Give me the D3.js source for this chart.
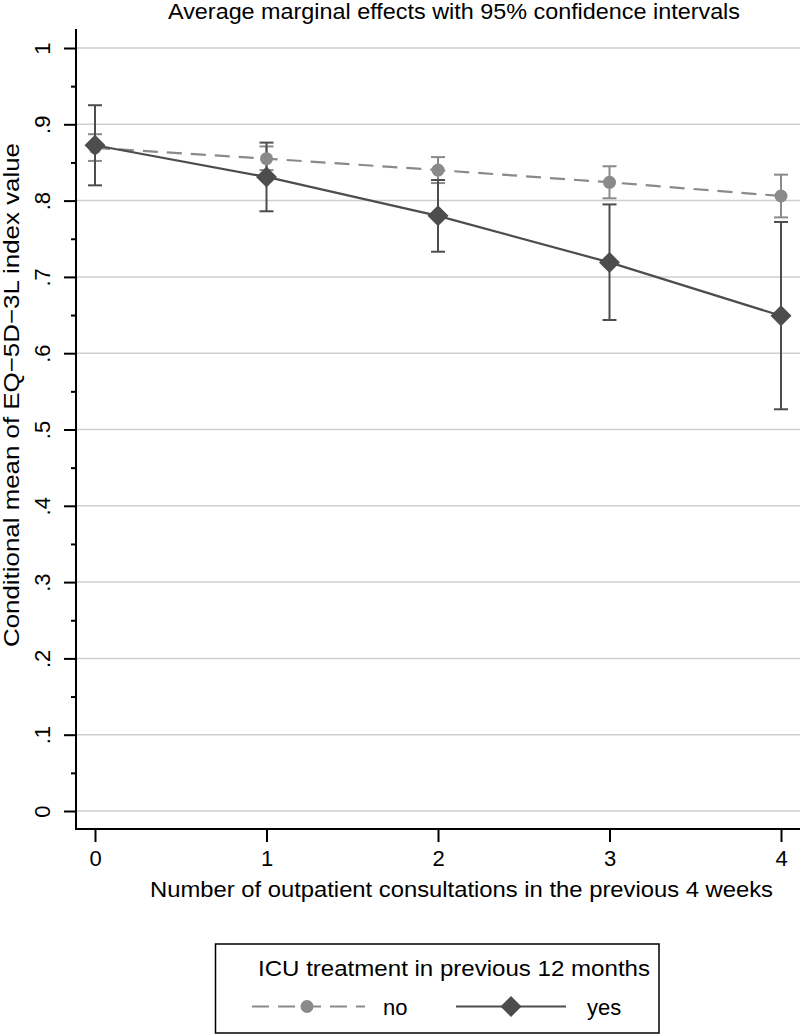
<!DOCTYPE html>
<html><head><meta charset="utf-8">
<script src="https://cdn.jsdelivr.net/npm/d3@7"></script>
<style>body{margin:0;background:#fff}svg text{font-family:"Liberation Sans",Arial,Helvetica,sans-serif;fill:#000}</style>
</head><body>
<svg id="chart" width="800" height="1035"></svg>
<script>
// ---- data ----
const xValues = [0, 1, 2, 3, 4];
const xTickLabels = ["0", "1", "2", "3", "4"];
const yTicks = [0, 0.1, 0.2, 0.3, 0.4, 0.5, 0.6, 0.7, 0.8, 0.9, 1];
const yTickLabels = ["0", ".1", ".2", ".3", ".4", ".5", ".6", ".7", ".8", ".9", "1"];
const yMinorTicks = [0.05, 0.15, 0.25, 0.35, 0.45, 0.55, 0.65, 0.75, 0.85, 0.95];
const noMean  = [0.869, 0.855, 0.840, 0.824, 0.806];
const noLower = [0.852, 0.840, 0.823, 0.803, 0.778];
const noUpper = [0.887, 0.871, 0.857, 0.845, 0.834];
const yesMean  = [0.8725, 0.831, 0.780, 0.719, 0.649];
const yesLower = [0.820, 0.786, 0.733, 0.6435, 0.5265];
const yesUpper = [0.925, 0.876, 0.827, 0.795, 0.772];
const seriesNames = ["no", "yes"];
const titleText = "Average marginal effects with 95% confidence intervals";
const xTitle = "Number of outpatient consultations in the previous 4 weeks";
const yTitle = "Conditional mean of EQ\u22125D\u22123L index value";
const legendTitle = "ICU treatment in previous 12 months";

// ---- layout ----
const svg = d3.select("#chart");
const plotL = 76, plotR = 800, plotT = 29, plotB = 829;
const x = d3.scaleLinear().domain([0, 4]).range([95, 781]);
const y = d3.scaleLinear().domain([0, 1]).range([811, 48]);
const noColor = "#8a8a8a", yesColor = "#4d4d4d";
const gridColor = "#cfcfcf";

// gridlines
svg.append("g").selectAll("line").data(yTicks).join("line")
  .attr("x1", plotL).attr("x2", plotR)
  .attr("y1", d => y(d)).attr("y2", d => y(d))
  .attr("stroke", gridColor).attr("stroke-width", 1.5);

// y axis
const yAxis = svg.append("g").attr("transform", `translate(${plotL},0)`)
  .call(d3.axisLeft(y).tickValues(yTicks).tickFormat((d, i) => yTickLabels[i]).tickSize(12).tickPadding(0));
yAxis.select(".domain").remove();
yAxis.selectAll(".tick line").attr("stroke", "#000").attr("stroke-width", 2);
yAxis.selectAll(".tick text")
  .attr("font-size", 22).attr("text-anchor", "middle")
  .attr("x", null).attr("dy", null)
  .attr("transform", "translate(-26,0) rotate(-90)");
const yMinor = svg.append("g").attr("transform", `translate(${plotL},0)`)
  .call(d3.axisLeft(y).tickValues(yMinorTicks).tickFormat("").tickSize(5));
yMinor.select(".domain").remove();
yMinor.selectAll(".tick line").attr("stroke", "#000").attr("stroke-width", 2);
svg.append("line").attr("x1", plotL).attr("x2", plotL).attr("y1", plotT).attr("y2", plotB + 1)
  .attr("stroke", "#000").attr("stroke-width", 2);

// x axis
const xAxis = svg.append("g").attr("transform", `translate(0,${plotB})`)
  .call(d3.axisBottom(x).tickValues(xValues).tickFormat((d, i) => xTickLabels[i]).tickSize(13).tickPadding(6));
xAxis.select(".domain").remove();
xAxis.selectAll(".tick line").attr("stroke", "#000").attr("stroke-width", 2);
xAxis.selectAll(".tick text").attr("font-size", 22).attr("dy", "0.8em");
svg.append("line").attr("x1", plotL - 1).attr("x2", plotR).attr("y1", plotB).attr("y2", plotB)
  .attr("stroke", "#000").attr("stroke-width", 2);

// error bars
function errorBars(lower, upper, color) {
  const g = svg.append("g").attr("stroke", color).attr("stroke-width", 2);
  xValues.forEach((xv, i) => {
    g.append("line").attr("x1", x(xv)).attr("x2", x(xv)).attr("y1", y(lower[i])).attr("y2", y(upper[i]));
    g.append("line").attr("x1", x(xv) - 7).attr("x2", x(xv) + 7).attr("y1", y(lower[i])).attr("y2", y(lower[i]));
    g.append("line").attr("x1", x(xv) - 7).attr("x2", x(xv) + 7).attr("y1", y(upper[i])).attr("y2", y(upper[i]));
  });
}
errorBars(noLower, noUpper, noColor);
errorBars(yesLower, yesUpper, yesColor);

// lines
const line = d3.line().x((d, i) => x(xValues[i])).y(d => y(d));
svg.append("path").datum(noMean).attr("d", line).attr("fill", "none")
  .attr("stroke", noColor).attr("stroke-width", 2.2).attr("stroke-dasharray", "15,9");
svg.append("path").datum(yesMean).attr("d", line).attr("fill", "none")
  .attr("stroke", yesColor).attr("stroke-width", 2.2);

// markers
const circleSym = d3.symbol().type(d3.symbolCircle).size(Math.PI * 6.5 * 6.5);
const diamondPath = r => `M0,${-r}L${r},0L0,${r}L${-r},0Z`;
svg.append("g").selectAll("path").data(noMean).join("path")
  .attr("d", circleSym()).attr("transform", (d, i) => `translate(${x(xValues[i])},${y(d)})`)
  .attr("fill", noColor);
svg.append("g").selectAll("path").data(yesMean).join("path")
  .attr("d", diamondPath(10.5)).attr("transform", (d, i) => `translate(${x(xValues[i])},${y(d)})`)
  .attr("fill", yesColor);

// titles
svg.append("text").attr("x", 454).attr("y", 19).attr("text-anchor", "middle")
  .attr("font-size", 22).attr("textLength", 572).attr("lengthAdjust", "spacingAndGlyphs").text(titleText);
svg.append("text").attr("x", 150).attr("y", 897).attr("font-size", 22)
  .attr("textLength", 623).attr("lengthAdjust", "spacingAndGlyphs").text(xTitle);
svg.append("text").attr("transform", "translate(19,395) rotate(-90)").attr("text-anchor", "middle")
  .attr("font-size", 22).attr("textLength", 504).attr("lengthAdjust", "spacingAndGlyphs").text(yTitle);

// legend
const lg = svg.append("g");
lg.append("rect").attr("x", 215.5).attr("y", 944).attr("width", 443.5).attr("height", 89)
  .attr("fill", "#fff").attr("stroke", "#000").attr("stroke-width", 1.5);
lg.append("text").attr("x", 258).attr("y", 976).attr("font-size", 22)
  .attr("textLength", 392).attr("lengthAdjust", "spacingAndGlyphs").text(legendTitle);
const legY = 1006.5;
lg.append("line").attr("x1", 252).attr("x2", 365).attr("y1", legY).attr("y2", legY)
  .attr("stroke", noColor).attr("stroke-width", 2.2).attr("stroke-dasharray", "17,9");
lg.append("path").attr("d", circleSym()).attr("transform", `translate(307,${legY})`).attr("fill", noColor);
lg.append("text").attr("x", 383).attr("y", 1015).attr("font-size", 22).text(seriesNames[0]);
lg.append("line").attr("x1", 456).attr("x2", 566).attr("y1", legY).attr("y2", legY)
  .attr("stroke", yesColor).attr("stroke-width", 2.2);
lg.append("path").attr("d", diamondPath(10.5)).attr("transform", `translate(511,${legY})`).attr("fill", yesColor);
lg.append("text").attr("x", 587).attr("y", 1015).attr("font-size", 22).text(seriesNames[1]);
</script>
</body></html>
